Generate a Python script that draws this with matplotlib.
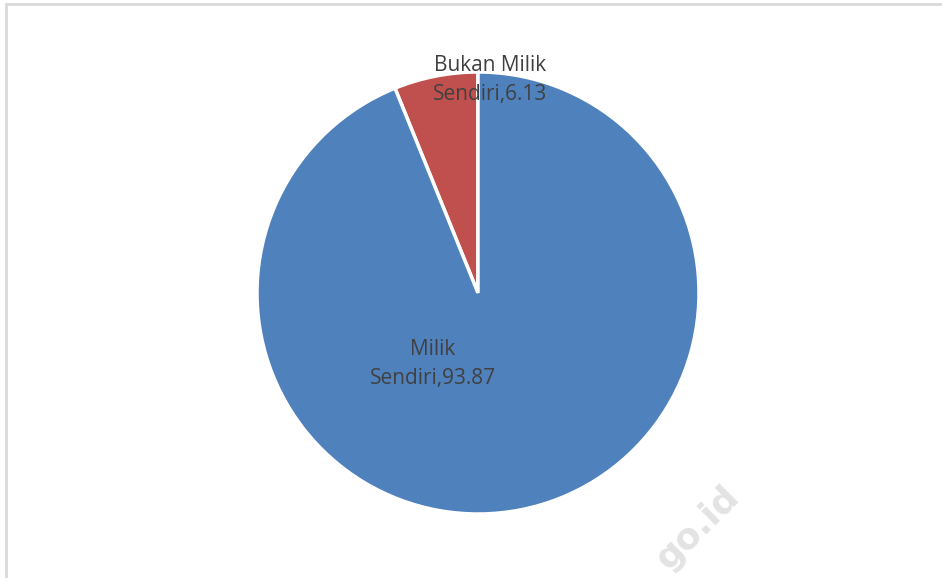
import matplotlib
matplotlib.use("Agg")
import matplotlib.pyplot as plt
from matplotlib.patches import Rectangle

categories = ["Bukan Milik\nSendiri", "Milik\nSendiri"]
values = [6.13, 93.87]
colors = ["#C0504D", "#4F81BD"]

W, H = 942, 578
fig = plt.figure(figsize=(W / 100, H / 100), dpi=100)
ax = fig.add_axes([0, 0, 1, 1])
ax.set_xlim(0, W)
ax.set_ylim(0, H)
ax.set_aspect("equal")
ax.axis("off")

cx, cy, r = 478, H - 293, 221
wedges, _ = ax.pie(values, colors=colors, startangle=90, counterclock=True,
                   center=(cx, cy), radius=r,
                   wedgeprops=dict(edgecolor="white", linewidth=2.5))
ax.set_xlim(0, W)
ax.set_ylim(0, H)

font = dict(family=["Open Sans", "DejaVu Sans"], fontsize=15, color="#404040",
            ha="center", va="center", linespacing=1.45)
ax.text(490, H - 80, f"{categories[0]},{values[0]:.2f}", **font)
ax.text(433, H - 364, f"{categories[1]},{values[1]:.2f}", **font)

# faint site watermark
ax.text(698, H - 528, "go.id", rotation=45, fontsize=26, fontweight="bold",
        color="#e3e3e3", ha="center", va="center", family="DejaVu Sans", zorder=0)

# chart-area border
fig.patches.append(Rectangle((5.5 / W, 0 - 0.1), 2, (H - 4.5) / H + 0.1,
                             transform=fig.transFigure, fill=False,
                             edgecolor="#d9d9d9", linewidth=2))

fig.savefig("out.png", dpi=100, facecolor="white")
